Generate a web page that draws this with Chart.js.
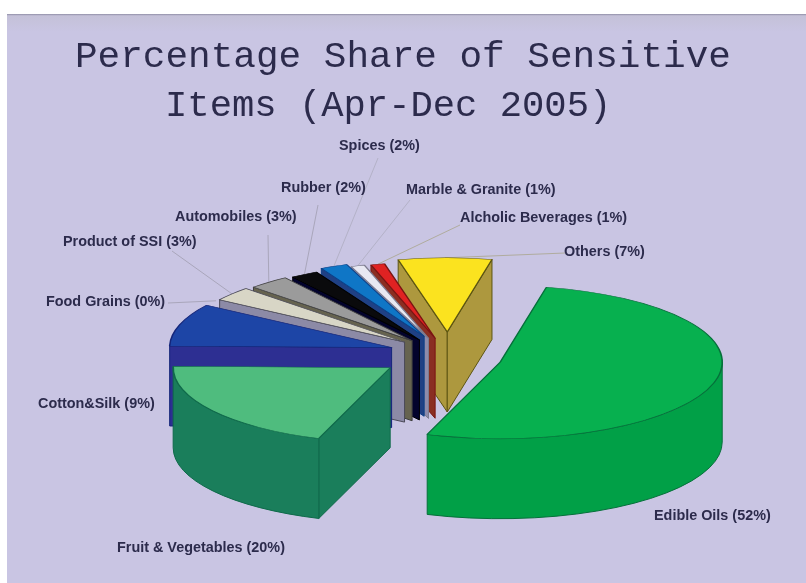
<!DOCTYPE html>
<html>
<head>
<meta charset="utf-8">
<style>html,body{margin:0;padding:0;background:#fff}canvas{display:block}</style>
<script src="https://cdn.jsdelivr.net/npm/chart.js@4/dist/chart.umd.min.js"></script>
</head>
<body>
<canvas id="c" width="806" height="583"></canvas>
<script>
// Series: share of sensitive items, in percent
const categories = ['Edible Oils','Fruit & Vegetables','Cotton&Silk','Food Grains','Product of SSI','Automobiles','Rubber','Spices','Marble & Granite','Alcholic Beverages','Others'];
const shares = [52,20,9,0,3,3,2,2,1,1,7];

// Slice appearance
const topColors  = ['#07b04f','#4fbc7e','#1d45a6','#d8d6c6','#d8d6c6','#9b9b9b','#0a0a0c','#0f76c6','#e8e8f2','#e02222','#fbe31f'];
const wallColors = ['#01a047','#1a7e5b','#2d2f92','#8c8aa6','#8c8aa6','#66634f','#03032c','#1f4084','#8d8bab','#8a2e22','#ad983e'];
const edgeColors = ['#05703a','#0f6a4a','#14257a','#4b4a58','#4b4a58','#3e3e3e','#000000','#0c3f86','#7d7c90','#7a1412','#5d5512'];
// How far each wedge is pulled out, the turn of that pull in degrees, and its radius
const explode    = [67,58,50,50,50,49,48,57,50,50,69];
const explodeTurn = [1,-3,10,12,12,11,11,12,10,14,10];
const radii      = [222,217,222,222,222,222,222,222,222,222,215];

// Text annotations
const titleLines = [['Percentage Share of Sensitive',75,67,37.7],['Items (Apr-Dec 2005)',165,115.5,37.2]];
const labelLeft  = [654,117,38,46,63,175,281,339,406,460,564];
const labelMid   = [516,548,404,302,242,217,188,146,190,218,252];
const leaderFrom = [null,null,null,[168,303],[172,251],[268,235],[318,205],[378,158],[410,200],[460,225],[565,253]];
const leaderColors = ['','','','#a9a6bb','#a9a6bb','#a9a6bb','#a9a6bb','#b4b2c8','#b4b2c8','#b0ac9e','#b0ac9e'];

const squash = 0.345;
const depth = 80;
const TAU = Math.PI * 2;

function screenY(cy, y){ return cy + (y - cy) * squash; }

// Extrudes one wedge downward: visible radial faces and the front-facing rim
function drawWall(ctx, arc, cy, wall, edge){
  const x = arc.x, y = screenY(cy, arc.y), r = arc.outerRadius, ry = r * squash;
  const a0 = arc.startAngle, a1 = arc.endAngle;
  if (a1 - a0 <= 0) return;
  ctx.save();
  ctx.fillStyle = wall; ctx.strokeStyle = edge; ctx.lineWidth = 1; ctx.lineJoin = 'round';
  const face = a => {
    const ex = x + Math.cos(a) * r, ey = y + Math.sin(a) * ry;
    ctx.beginPath();
    ctx.moveTo(x, y); ctx.lineTo(ex, ey); ctx.lineTo(ex, ey + depth); ctx.lineTo(x, y + depth);
    ctx.closePath(); ctx.fill(); ctx.stroke();
  };
  if (-Math.cos(a0) > 0) face(a0);
  if (Math.cos(a1) > 0) face(a1);
  for (const shift of [-TAU, 0, TAU]) {
    const s = Math.max(a0, shift), e = Math.min(a1, shift + Math.PI);
    if (e <= s) continue;
    ctx.beginPath();
    ctx.ellipse(x, y, r, ry, 0, s, e);
    ctx.lineTo(x + Math.cos(e) * r, y + Math.sin(e) * ry + depth);
    ctx.ellipse(x, y + depth, r, ry, 0, e, s, true);
    ctx.closePath(); ctx.fill(); ctx.stroke();
  }
  ctx.restore();
}

const explodedPie = {
  id: 'explodedPie',
  afterDatasetsUpdate(chart){
    const arcs = chart.getDatasetMeta(0).data;
    arcs.forEach((arc, i) => {
      const mid = (arc.startAngle + arc.endAngle) / 2 + explodeTurn[i] * Math.PI / 180;
      arc.baseY = arc.y;
      arc.x += Math.cos(mid) * explode[i];
      arc.y += Math.sin(mid) * explode[i];
      arc.outerRadius = radii[i];
    });
  },
  beforeDraw(chart){
    const ctx = chart.ctx;
    ctx.save();
    const g = ctx.createLinearGradient(0, 14, 0, 32);
    g.addColorStop(0, '#8f8da5'); g.addColorStop(0.1, '#c4c1d8'); g.addColorStop(1, '#c9c5e3');
    ctx.fillStyle = g;
    ctx.fillRect(7, 14, 799, 569);
    ctx.restore();
  },
  beforeDatasetsDraw(chart){
    const ctx = chart.ctx;
    const arcs = chart.getDatasetMeta(0).data;
    const cy = arcs[0].baseY;
    // leader lines sit under the pie
    ctx.save();
    ctx.lineWidth = 1;
    arcs.forEach((arc, i) => {
      if (!leaderFrom[i]) return;
      const mid = (arc.startAngle + arc.endAngle) / 2;
      ctx.strokeStyle = leaderColors[i];
      ctx.beginPath();
      ctx.moveTo(leaderFrom[i][0], leaderFrom[i][1]);
      ctx.lineTo(arc.x + Math.cos(mid) * arc.outerRadius, screenY(cy, arc.y + Math.sin(mid) * arc.outerRadius));
      ctx.stroke();
    });
    ctx.restore();
    // back-to-front: Others sweeping counter-clockwise to Fruit, Edible Oils last
    const order = [10,9,8,7,6,5,4,3,2,1,0];
    order.forEach(i => {
      const arc = arcs[i];
      drawWall(ctx, arc, cy, wallColors[i], edgeColors[i]);
      ctx.save();
      ctx.translate(0, cy); ctx.scale(1, squash); ctx.translate(0, -cy);
      arc.draw(ctx);
      ctx.restore();
    });
    return false;
  },
  afterDraw(chart){
    const ctx = chart.ctx;
    ctx.save();
    ctx.textAlign = 'left';
    ctx.fillStyle = '#2c2b4c';
    ctx.textBaseline = 'alphabetic';
    titleLines.forEach(l => {
      ctx.font = l[3] + 'px "Liberation Mono"';
      ctx.fillText(l[0], l[1], l[2]);
    });
    ctx.font = 'bold 14.4px "Liberation Sans"';
    ctx.textBaseline = 'middle';
    categories.forEach((name, i) => {
      ctx.fillText(name + ' (' + shares[i] + '%)', labelLeft[i], labelMid[i]);
    });
    ctx.restore();
  }
};

new Chart(document.getElementById('c'), {
  type: 'pie',
  data: {
    labels: categories,
    datasets: [{
      data: shares,
      backgroundColor: topColors,
      borderColor: edgeColors,
      borderWidth: 1.6,
      borderJoinStyle: 'round'
    }]
  },
  options: {
    responsive: false,
    animation: false,
    rotation: 12,
    radius: 222,
    layout: { padding: { left: 66, top: 128, right: 0, bottom: 0 } },
    plugins: { legend: { display: false }, title: { display: false }, tooltip: { enabled: false } }
  },
  plugins: [explodedPie]
});
</script>
</body>
</html>
